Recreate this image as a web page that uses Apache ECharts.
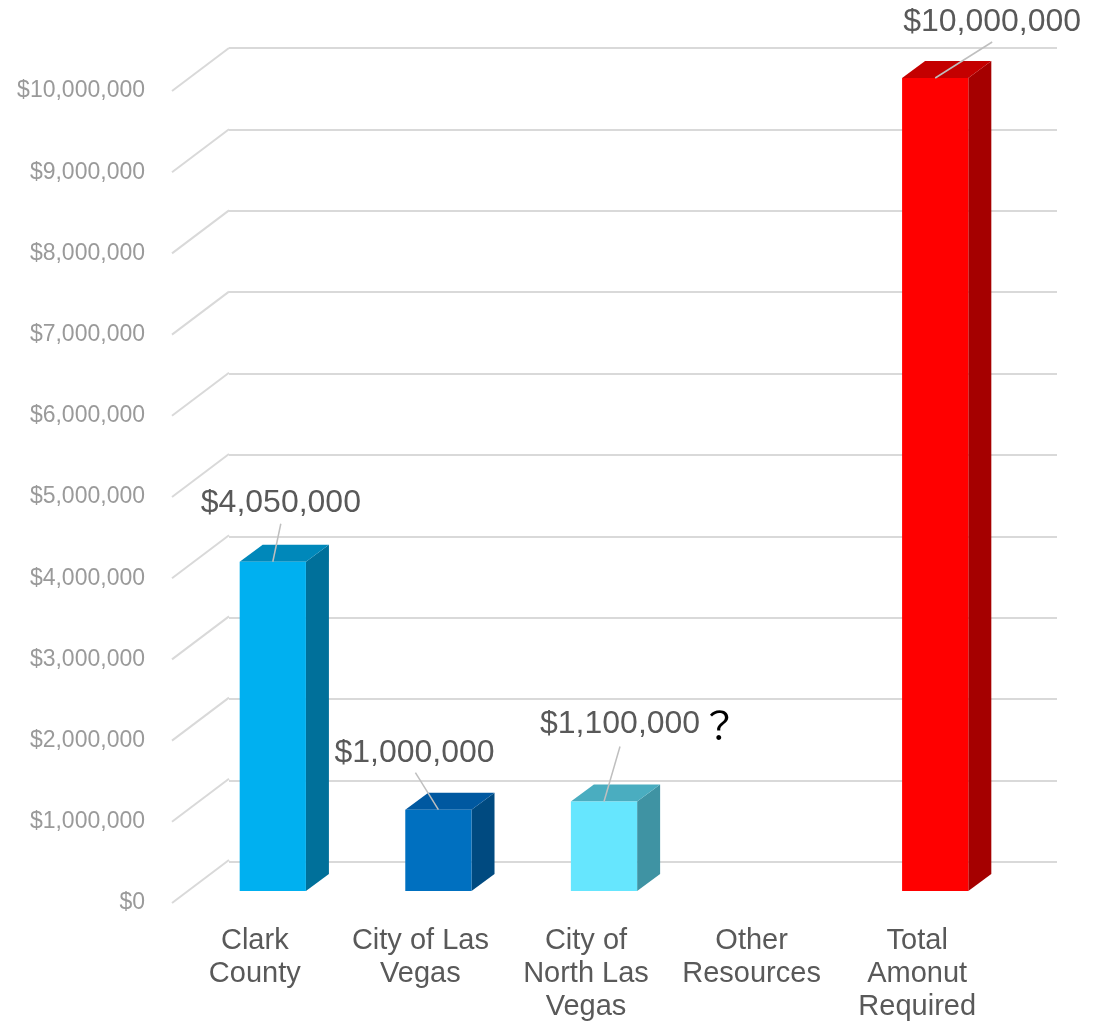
<!DOCTYPE html>
<html>
<head>
<meta charset="utf-8">
<script src="https://cdn.jsdelivr.net/npm/echarts@6/dist/echarts.min.js"></script>
<style>
  html, body { margin: 0; padding: 0; background: #fff; }
  #chart { width: 1101px; height: 1023px; }
</style>
</head>
<body>
<div id="chart"></div>
<script>
// data
const categories = ['Clark\nCounty', 'City of Las\nVegas', 'City of\nNorth Las\nVegas', 'Other\nResources', 'Total\nAmonut\nRequired']
const amounts = [4050000, 1000000, 1100000, 0, 10000000]
const labelNotes = ['', '', '？', '', '']
const yTicks = [0, 1000000, 2000000, 3000000, 4000000, 5000000, 6000000, 7000000, 8000000, 9000000, 10000000]

// styles
const barColors = [
  { front: '#00b0f0', top: '#0088ba', side: '#00709a' },
  { front: '#0070c0', top: '#0058a0', side: '#004a80' },
  { front: '#66e6fe', top: '#4aadc0', side: '#3f93a3' },
  { front: '#999999', top: '#777777', side: '#666666' },
  { front: '#ff0000', top: '#c40000', side: '#a50000' },
]
// leader-line end and label position, relative to the bar's front-top centre
const labelLayout = [
  { lx: 8, ly: -38, tx: -72, ty: -59 },
  { lx: -23, ly: -37, tx: -104, ty: -57 },
  { lx: 16, ly: -55, tx: -64, ty: -77 },
  { lx: 0, ly: 0, tx: 0, ty: 0 },
  { lx: 57, ly: -36, tx: -32, ty: -56 },
]
const DEPTH_X = 57, DEPTH_Y = 43   // front wall -> back wall
const BAR_DX = 23, BAR_DY = 17     // bar depth
const FONT = 'Liberation Sans, Arial, sans-serif'

const fmtMoney = v => '$' + v.toLocaleString('en-US')

const renderBar = (params, api) => {
  const v = api.value(1)
  if (!v) return
  const i = params.dataIndex
  const top = api.coord([api.value(0), v])
  const base = api.coord([api.value(0), 0])
  const w = api.size([1, 0])[0] * 0.4
  const x0 = top[0] - w / 2, x1 = top[0] + w / 2
  const c = barColors[i]
  const lay = labelLayout[i]
  const rich = labelNotes[i] ? '{v|' + fmtMoney(v) + '}{q|' + labelNotes[i] + '}' : '{v|' + fmtMoney(v) + '}'
  return {
    type: 'group',
    children: [
      { type: 'polygon', shape: { points: [[x1, top[1]], [x1 + BAR_DX, top[1] - BAR_DY], [x1 + BAR_DX, base[1] - BAR_DY], [x1, base[1]]] }, style: { fill: c.side } },
      { type: 'polygon', shape: { points: [[x0, top[1]], [x0 + BAR_DX, top[1] - BAR_DY], [x1 + BAR_DX, top[1] - BAR_DY], [x1, top[1]]] }, style: { fill: c.top } },
      { type: 'rect', shape: { x: x0, y: top[1], width: w, height: base[1] - top[1] }, style: { fill: c.front } },
      { type: 'line', shape: { x1: top[0], y1: top[1], x2: top[0] + lay.lx, y2: top[1] + lay.ly }, style: { stroke: '#bfbfbf', lineWidth: 1.5 } },
      {
        type: 'text', x: top[0] + lay.tx, y: top[1] + lay.ty,
        style: {
          text: rich, align: 'left', verticalAlign: 'middle',
          rich: {
            v: { fontSize: 32, fontFamily: FONT, fill: '#595959' },
            q: { fontSize: 38, fontFamily: '"Noto Sans CJK JP", sans-serif', fill: '#000000' },
          },
        },
      },
    ],
  }
}

const renderDiagonal = (params, api) => {
  const p = api.coord([0, api.value(0)])
  const x = params.coordSys.x
  return {
    type: 'line',
    shape: { x1: x, y1: p[1], x2: x + DEPTH_X, y2: p[1] - DEPTH_Y },
    style: { stroke: '#d9d9d9', lineWidth: 2 },
  }
}

const chart = echarts.init(document.getElementById('chart'))
chart.setOption({
  animation: false,
  grid: [
    { left: 229, top: 48, width: 828, height: 814 },   // back wall
    { left: 172, top: 91, width: 828, height: 814 },   // front edge, axis labels
    { left: 190, top: 78, width: 828, height: 813 },   // bar plane
  ],
  xAxis: [
    { gridIndex: 0, type: 'category', data: categories, show: false },
    {
      gridIndex: 1, type: 'category', data: categories,
      axisLine: { show: false }, axisTick: { show: false },
      axisLabel: { margin: 21, fontSize: 29, lineHeight: 33, color: '#595959', fontFamily: FONT, interval: 0 },
    },
    { gridIndex: 2, type: 'category', data: categories, show: false },
  ],
  yAxis: [
    {
      gridIndex: 0, type: 'value', min: 0, max: 10000000, interval: 1000000,
      axisLabel: { show: false }, axisLine: { show: false }, axisTick: { show: false },
      splitLine: { lineStyle: { color: '#d9d9d9', width: 2 } },
    },
    {
      gridIndex: 1, type: 'value', min: 0, max: 10000000, interval: 1000000,
      axisLine: { show: false }, axisTick: { show: false }, splitLine: { show: false },
      axisLabel: { margin: 27, fontSize: 23, color: '#9a9a9a', fontFamily: FONT, formatter: fmtMoney },
    },
    { gridIndex: 2, type: 'value', min: 0, max: 10000000, show: false },
  ],
  series: [
    {
      type: 'custom', xAxisIndex: 1, yAxisIndex: 1,
      renderItem: renderDiagonal,
      data: yTicks.map(v => [v]),
      encode: { y: 0 },
      silent: true,
    },
    {
      type: 'custom', xAxisIndex: 2, yAxisIndex: 2,
      renderItem: renderBar,
      data: amounts.map((v, i) => [i, v]),
      encode: { x: 0, y: 1 },
    },
  ],
})
</script>
</body>
</html>
